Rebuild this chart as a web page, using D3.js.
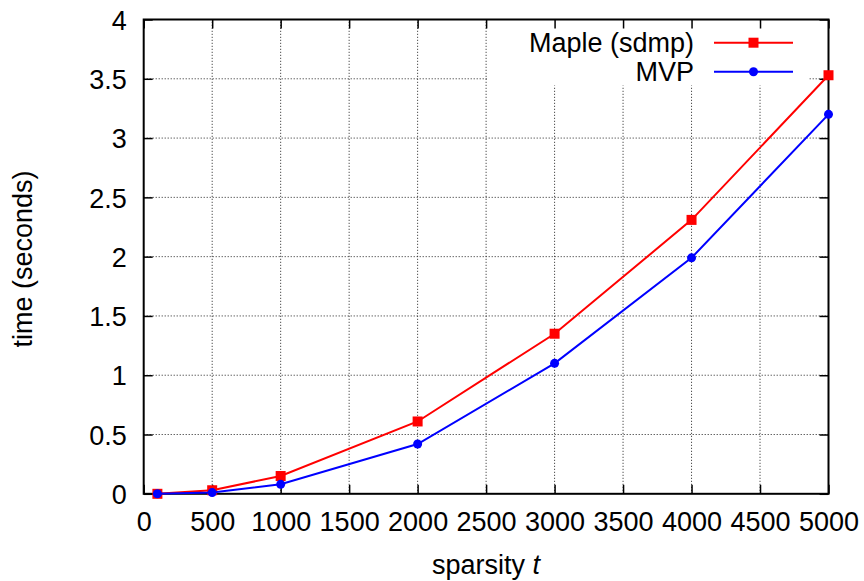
<!DOCTYPE html>
<html><head><meta charset="utf-8">
<script src="https://cdn.jsdelivr.net/npm/d3@7"></script>
<style>body{margin:0;background:#fff}svg{display:block;font-family:"Liberation Sans",Arial,sans-serif}</style>
</head><body>
<script>
const sparsity = [100, 500, 1000, 2000, 3000, 4000, 5000];
const mapleTimes = [0.0, 0.03, 0.15, 0.61, 1.35, 2.31, 3.53];
const mvpTimes = [0.0, 0.01, 0.08, 0.42, 1.10, 1.99, 3.20];
const xTicks = [0, 500, 1000, 1500, 2000, 2500, 3000, 3500, 4000, 4500, 5000];
const yTicks = [0, 0.5, 1, 1.5, 2, 2.5, 3, 3.5, 4];
const seriesNames = ["Maple (sdmp)", "MVP"];

const W = 864, H = 581;
const L = 143.7, R = 828.5, T = 19.5, B = 493.8;
const svg = d3.select("body").append("svg").attr("width", W).attr("height", H);
const x = d3.scaleLinear().domain([0, 5000]).range([L, R]);
const y = d3.scaleLinear().domain([0, 4]).range([B, T]);
const fs = 27;

// grid
const g = svg.append("g");
g.selectAll(".gx").data(xTicks.slice(1, -1)).join("line")
  .attr("x1", d => x(d)).attr("x2", d => x(d)).attr("y1", B).attr("y2", T)
  .attr("stroke", "#222").attr("stroke-width", 1).attr("stroke-dasharray", "1,2");
g.selectAll(".gy").data(yTicks.slice(1, -1)).join("line")
  .attr("y1", d => y(d)).attr("y2", d => y(d)).attr("x1", L).attr("x2", R)
  .attr("stroke", "#222").attr("stroke-width", 1).attr("stroke-dasharray", "1,2");

// legend opaque box
svg.append("rect").attr("x", 487).attr("y", T).attr("width", 321).attr("height", 66).attr("fill", "#fff");

// axes with inward ticks
const tk = 9;
const axB = d3.axisBottom(x).tickValues(xTicks).tickSize(-tk).tickPadding(18.5).tickFormat(d3.format("d"));
const axT = d3.axisTop(x).tickValues(xTicks).tickSize(-tk).tickFormat("");
const axL = d3.axisLeft(y).tickValues(yTicks).tickSize(-tk).tickPadding(17).tickFormat(d => d);
const axR = d3.axisRight(y).tickValues(yTicks).tickSize(-tk).tickFormat("");
function style(sel) {
  sel.selectAll(".domain").remove();
  sel.selectAll(".tick line").attr("stroke", "#000").attr("stroke-width", 1.5);
  sel.selectAll("text").attr("font-size", fs).attr("fill", "#000").attr("font-family", "Liberation Sans, Arial, sans-serif");
}
svg.append("g").attr("transform", `translate(0,${B})`).call(axB).call(style);
svg.append("g").attr("transform", `translate(0,${T})`).call(axT).call(style);
svg.append("g").attr("transform", `translate(${L},0)`).call(axL).call(style)
  .selectAll("text").attr("dy", "0.36em");
svg.append("g").attr("transform", `translate(${R},0)`).call(axR).call(style);

// border
svg.append("rect").attr("x", L).attr("y", T).attr("width", R - L).attr("height", B - T)
  .attr("fill", "none").attr("stroke", "#000").attr("stroke-width", 2);

// series
const line = d3.line().x(d => x(d[0])).y(d => y(d[1]));
const maple = sparsity.map((s, i) => [s, mapleTimes[i]]);
const mvp = sparsity.map((s, i) => [s, mvpTimes[i]]);
const red = "#ff0000", blue = "#0000ff";
svg.append("path").datum(maple).attr("d", line).attr("fill", "none").attr("stroke", red).attr("stroke-width", 2);
svg.selectAll(".sq").data(maple).join("rect")
  .attr("x", d => x(d[0]) - 5).attr("y", d => y(d[1]) - 5).attr("width", 10).attr("height", 10).attr("fill", red);
svg.append("path").datum(mvp).attr("d", line).attr("fill", "none").attr("stroke", blue).attr("stroke-width", 2);
svg.selectAll(".ci").data(mvp).join("circle")
  .attr("cx", d => x(d[0])).attr("cy", d => y(d[1])).attr("r", 4.5).attr("fill", blue);

// legend
const leg = [[seriesNames[0], red, "sq", 42.7], [seriesNames[1], blue, "ci", 71.7]];
leg.forEach(([name, col, mk, ly]) => {
  svg.append("text").attr("x", 694).attr("y", ly).attr("dy", "0.36em").attr("text-anchor", "end")
    .attr("font-size", fs).text(name);
  svg.append("line").attr("x1", 714).attr("x2", 793).attr("y1", ly).attr("y2", ly).attr("stroke", col).attr("stroke-width", 2);
  if (mk === "sq") svg.append("rect").attr("x", 753.5 - 5).attr("y", ly - 5).attr("width", 10).attr("height", 10).attr("fill", col);
  else svg.append("circle").attr("cx", 753.5).attr("cy", ly).attr("r", 4.5).attr("fill", col);
});

// axis titles
svg.append("text").attr("x", 486).attr("y", 573.5).attr("text-anchor", "middle").attr("font-size", fs)
  .html('sparsity <tspan font-style="italic">t</tspan>');
svg.append("text").attr("transform", "translate(32,259) rotate(-90)").attr("text-anchor", "middle").attr("font-size", fs)
  .text("time (seconds)");
</script>
</body></html>
